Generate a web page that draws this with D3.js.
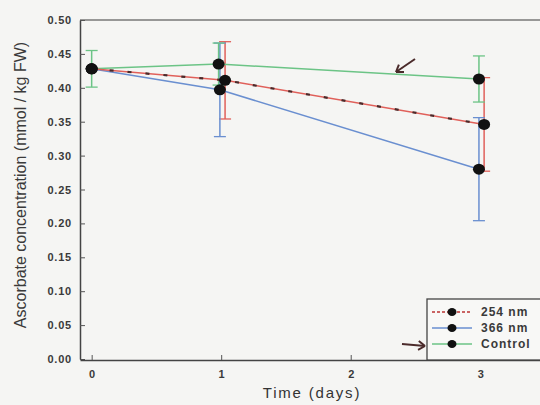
<!DOCTYPE html>
<html><head><meta charset="utf-8">
<script src="https://cdn.jsdelivr.net/npm/d3@7"></script>
<style>body{margin:0;background:#f5f5f3;}svg{display:block;}</style>
</head><body>
<svg id="c" width="540" height="405"></svg>
<script>
const days = [0, 1, 3];
const xTicks = [0, 1, 2, 3];
const yTicks = [0, 0.05, 0.10, 0.15, 0.20, 0.25, 0.30, 0.35, 0.40, 0.45, 0.50];
const seriesNames = ["254 nm", "366 nm", "Control"];
const x254 = [0, 1.03, 3.03];
const v254 = [0.428, 0.411, 0.346];
const e254 = [0.0, 0.057, 0.069];
const x366 = [0, 0.99, 2.99];
const v366 = [0.428, 0.397, 0.280];
const e366 = [0.0, 0.069, 0.076];
const xCtl = [0, 0.98, 2.99];
const vCtl = [0.428, 0.435, 0.413];
const eCtl = [0.027, 0.031, 0.034];

const svg = d3.select("#c");
const L = 80, T = 20, B = 360, R = 545;
const x = d3.scaleLinear().domain([-0.09, 3.5]).range([L, R]);
const y = d3.scaleLinear().domain([0, 0.5]).range([B - 1, T]);
const fontF = "Liberation Sans, Arial, sans-serif";

// frame
svg.append("line").attr("x1", L).attr("x2", 540).attr("y1", T).attr("y2", T).attr("stroke", "#777").attr("stroke-width", 1.5);

// axes
const ya = svg.append("g").attr("transform", `translate(${L},0)`)
  .call(d3.axisLeft(y).tickValues(yTicks).tickFormat(d3.format(".2f")).tickSizeInner(-5).tickSizeOuter(0).tickPadding(8));
ya.select(".domain").attr("stroke", "#444").attr("stroke-width", 1.5);
ya.selectAll(".tick line").attr("stroke", "#555");
ya.selectAll("text").attr("font-family", fontF).attr("font-size", 11).attr("font-weight", "bold").attr("letter-spacing", 0.8).attr("fill", "#3a3a3a");

const xa = svg.append("g").attr("transform", `translate(0,${B})`)
  .call(d3.axisBottom(x).tickValues(xTicks).tickFormat(d3.format("d")).tickSizeInner(-5).tickSizeOuter(0).tickPadding(10));
xa.select(".domain").attr("stroke", "#444").attr("stroke-width", 1.5);
xa.selectAll(".tick line").attr("stroke", "#555");
xa.selectAll("text").attr("font-family", fontF).attr("font-size", 11).attr("font-weight", "bold").attr("fill", "#3a3a3a");

// axis titles
svg.append("text").attr("transform", "translate(26,185) rotate(-90)").attr("text-anchor", "middle")
  .attr("font-family", fontF).attr("font-size", 16).attr("fill", "#3a3a3a").text("Ascorbate concentration (mmol / kg FW)");
svg.append("text").attr("x", 312).attr("y", 398).attr("text-anchor", "middle")
  .attr("font-family", fontF).attr("font-size", 15).attr("letter-spacing", 1.8).attr("fill", "#333").text("Time (days)");

const series = [
  {name: seriesNames[0], xs: x254, vs: v254, es: e254, color: "#e0605a", dash: true},
  {name: seriesNames[1], xs: x366, vs: v366, es: e366, color: "#6a8fd0", dash: false},
  {name: seriesNames[2], xs: xCtl, vs: vCtl, es: eCtl, color: "#6cc486", dash: false}
];
const line = d3.line().x(d => x(d[0])).y(d => y(d[1]));

// error bars
series.forEach(s => {
  const g = svg.append("g");
  s.xs.forEach((xv, i) => {
    if (s.es[i] <= 0) return;
    const cx = x(xv), y1 = y(s.vs[i] + s.es[i]), y2 = y(s.vs[i] - s.es[i]);
    g.append("line").attr("x1", cx).attr("x2", cx).attr("y1", y1).attr("y2", y2).attr("stroke", s.color).attr("stroke-width", 1.5);
    [y1, y2].forEach(yy => g.append("line").attr("x1", cx - 6).attr("x2", cx + 6).attr("y1", yy).attr("y2", yy).attr("stroke", s.color).attr("stroke-width", 1.3));
  });
});

// lines
[series[2], series[1], series[0]].forEach(s => {
  const pts = s.xs.map((xv, i) => [xv, s.vs[i]]);
  svg.append("path").attr("d", line(pts)).attr("fill", "none").attr("stroke", s.color).attr("stroke-width", 1.5);
  if (s.dash) svg.append("path").attr("d", line(pts)).attr("fill", "none").attr("stroke", "#4a2a2a").attr("stroke-width", 2.2).attr("stroke-dasharray", "4,14");
});

// markers
series.forEach(s => {
  svg.append("g").selectAll("ellipse").data(s.xs.map((xv, i) => [xv, s.vs[i]])).join("ellipse")
    .attr("cx", d => x(d[0])).attr("cy", d => y(d[1])).attr("rx", 6).attr("ry", 5.5).attr("fill", "#111");
});

// legend
const lg = svg.append("g");
lg.append("rect").attr("x", 427).attr("y", 299).attr("width", 130).attr("height", 61).attr("fill", "#f8f8f6").attr("stroke", "#444").attr("stroke-width", 1.3);
series.forEach((s, i) => {
  const yy = 312 + i * 16;
  lg.append("line").attr("x1", 432).attr("x2", 472).attr("y1", yy).attr("y2", yy).attr("stroke", s.dash ? "#b33" : s.color).attr("stroke-width", 1.5).attr("stroke-dasharray", s.dash ? "3,2" : null);
  lg.append("ellipse").attr("cx", 452).attr("cy", yy).attr("rx", 4.5).attr("ry", 4).attr("fill", "#111");
  lg.append("text").attr("x", 481).attr("y", yy + 4).attr("font-family", fontF).attr("font-size", 12).attr("font-weight", "bold").attr("letter-spacing", 1).attr("fill", "#3a3a3a").text(s.name);
});

// hand-drawn arrows
const arrows = [
  {x1: 415, y1: 59, x2: 396, y2: 72},
  {x1: 402, y1: 344, x2: 425, y2: 346}
];
arrows.forEach(a => {
  const ang = Math.atan2(a.y2 - a.y1, a.x2 - a.x1);
  svg.append("line").attr("x1", a.x1).attr("y1", a.y1).attr("x2", a.x2).attr("y2", a.y2).attr("stroke", "#4a2a2a").attr("stroke-width", 2);
  [0.6, -0.6].forEach(o => {
    svg.append("line").attr("x1", a.x2).attr("y1", a.y2)
      .attr("x2", a.x2 - 8 * Math.cos(ang + o)).attr("y2", a.y2 - 8 * Math.sin(ang + o))
      .attr("stroke", "#4a2a2a").attr("stroke-width", 2);
  });
});
</script>
</body></html>
